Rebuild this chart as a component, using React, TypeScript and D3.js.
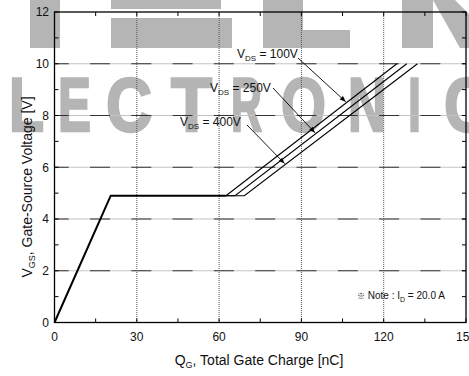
import React from "react";
import * as d3 from "d3";

const W = 469;
const H = 376;

// Shared part of the gate-charge curve: linear rise, then the Miller plateau
const riseQ = [0, 20.5, 62.5];
const riseV = [0, 4.9, 4.9];

// Per-V_DS branches: end of plateau, then the second linear rise to 10 V
const seriesNames = ["100V", "250V", "400V"];
const plateauEndQ = [62.5, 65.8, 69.2];
const plateauV = [4.9, 4.9, 4.9];
const topQ = [124.8, 128.4, 132.3];
const topV = [10, 10, 10];

// Voltage on each branch where its callout arrow lands
const arrowV = [8.55, 7.35, 6.16];

const xTicks = [0, 30, 60, 90, 120, 150];
const xMinor = [15, 45, 75, 105, 135];
const xGrid = [30, 60, 90, 120];
const yTicks = [0, 2, 4, 6, 8, 10, 12];
const yMinor = [1, 3, 5, 7, 9, 11];
const yGrid = [2, 4, 6, 8, 10];

const FONT = "'Liberation Sans', Arial, sans-serif";
const WM = "#b5b5b5";

// background logo pieces
const wmRects = [
  [30, 0, 30, 48],
  [111, 0, 110, 9],
  [111, 18, 121, 30],
  [263, 0, 40, 48],
  [263, 30, 87, 18],
  [402, 0, 31, 48],
];
const wmLetters = [
  ["L", 9, 35],
  ["E", 58, 33],
  ["C", 106, 46],
  ["T", 171, 41],
  ["R", 231, 31],
  ["O", 281, 45],
  ["N", 348, 38],
  ["I", 408, 13],
  ["C", 444, 45],
];

export default function App() {
  const x = d3.scaleLinear().domain([0, 150]).range([54.5, 466]);
  const y = d3.scaleLinear().domain([0, 12]).range([322.5, 12]);
  const line = d3
    .line<[number, number]>()
    .x((d) => x(d[0]))
    .y((d) => y(d[1]));

  const common = riseQ.map((q, i) => [q, riseV[i]] as [number, number]);
  const branches = seriesNames.map((_, i) => [
    [riseQ[2], riseV[2]] as [number, number],
    [plateauEndQ[i], plateauV[i]] as [number, number],
    [topQ[i], topV[i]] as [number, number],
  ]);

  const qOn = (i: number, v: number) =>
    plateauEndQ[i] +
    ((v - plateauV[i]) / (topV[i] - plateauV[i])) * (topQ[i] - plateauEndQ[i]);

  const labels = [
    { x: 237, y: 57.5, ax: 298, ay: 58 },
    { x: 210, y: 91.5, ax: 273, ay: 88 },
    { x: 180, y: 126, ax: 247, ay: 125 },
  ];

  const x0 = x(0);
  const x1 = x(150);
  const y0 = y(0);
  const y1 = y(12);

  return (
    <svg width={W} height={H} style={{ position: "absolute", left: 0, top: 0, background: "#fff" }}>
      <defs>
        <marker id="ah" viewBox="0 0 10 10" refX="10" refY="5" markerWidth="7" markerHeight="6" orient="auto" markerUnits="userSpaceOnUse">
          <path d="M0,1 L10,5 L0,9 Z" fill="#000" />
        </marker>
      </defs>

      {/* logo in the background */}
      <g fill={WM}>
        {wmRects.map(([rx, ry, rw, rh], i) => (
          <rect key={i} x={rx} y={ry} width={rw} height={rh} />
        ))}
        <polygon points="433,0 455,0 469,14 469,48 460,48" />
        {wmLetters.map(([ch, lx, lw], i) => (
          <text
            key={i}
            x={lx as number}
            y={131}
            fontFamily={FONT}
            fontWeight="bold"
            fontSize={76}
            textLength={lw as number}
            lengthAdjust="spacingAndGlyphs"
            stroke={WM}
            strokeWidth={2.5}
            strokeLinejoin="miter"
          >
            {ch}
          </text>
        ))}
      </g>

      {/* horizontal grid: light base with dark long dashes */}
      {yGrid.map((v) => (
        <g key={v}>
          <line x1={x0} x2={x1} y1={y(v)} y2={y(v)} stroke="#c4c4c4" strokeWidth={1.2} />
          <line x1={x0} x2={x1} y1={y(v)} y2={y(v)} stroke="#333" strokeWidth={1.2} strokeDasharray="20 21.3" strokeDashoffset={5.8} />
        </g>
      ))}
      {/* vertical grid: dotted */}
      {xGrid.map((q) => (
        <line key={q} x1={x(q)} x2={x(q)} y1={y1} y2={y0} stroke="#555" strokeWidth={1} strokeDasharray="1 1" />
      ))}

      {/* frame */}
      <rect x={x0} y={y1} width={x1 - x0} height={y0 - y1} fill="none" stroke="#000" strokeWidth={1.3} />

      {/* inward ticks */}
      {yTicks.concat(yMinor).map((v) => (
        <g key={"yt" + v}>
          <line x1={x0} x2={x0 + 4} y1={y(v)} y2={y(v)} stroke="#000" />
          <line x1={x1} x2={x1 - 4} y1={y(v)} y2={y(v)} stroke="#000" />
        </g>
      ))}
      {xTicks.concat(xMinor).map((q) => (
        <g key={"xt" + q}>
          <line x1={x(q)} x2={x(q)} y1={y0} y2={y0 - 4} stroke="#000" />
          <line x1={x(q)} x2={x(q)} y1={y1} y2={y1 + 4} stroke="#000" />
        </g>
      ))}

      {/* tick labels */}
      {yTicks.map((v) => (
        <text key={"yl" + v} x={49} y={y(v) + 4.3} textAnchor="end" fontFamily={FONT} fontSize={12} fill="#111">
          {v}
        </text>
      ))}
      {xTicks.map((q) => (
        <text key={"xl" + q} x={x(q)} y={340.5} textAnchor="middle" fontFamily={FONT} fontSize={12} fill="#111">
          {q}
        </text>
      ))}

      {/* curves */}
      <path d={line(common) || ""} fill="none" stroke="#000" strokeWidth={2} strokeLinejoin="round" />
      {branches.map((b, i) => (
        <path key={i} d={line(b) || ""} fill="none" stroke="#000" strokeWidth={1.1} />
      ))}

      {/* callouts */}
      {labels.map((l, i) => {
        const tx = x(qOn(i, arrowV[i])) - 2.5;
        const ty = y(arrowV[i]) + 0.5;
        return (
          <g key={"lab" + i}>
            <line x1={l.ax} y1={l.ay} x2={tx} y2={ty} stroke="#000" strokeWidth={0.9} markerEnd="url(#ah)" />
            <text x={l.x} y={l.y} fontFamily={FONT} fontSize={12} fill="#111">
              V
              <tspan fontSize={8} dy={3}>DS</tspan>
              <tspan dy={-3}>{" = " + seriesNames[i]}</tspan>
            </text>
          </g>
        );
      })}

      {/* note */}
      <text x={357} y={299} fontFamily={FONT} fontSize={10} fill="#111">
        <tspan fontFamily="'Noto Sans CJK JP', 'DejaVu Sans'" fontSize={8}>※</tspan>
        {" Note : I"}
        <tspan fontSize={7} dy={2.5}>D</tspan>
        <tspan dy={-2.5}>{" = 20.0 A"}</tspan>
      </text>

      {/* axis titles */}
      <text x={259} y={365} textAnchor="middle" fontFamily={FONT} fontSize={14} fill="#111">
        Q<tspan fontSize={9} dy={3}>G</tspan>
        <tspan dy={-3}>, Total Gate Charge [nC]</tspan>
      </text>
      <text transform="translate(32,187) rotate(-90)" textAnchor="middle" fontFamily={FONT} fontSize={14} fill="#111">
        V<tspan fontSize={9} dy={3}>GS</tspan>
        <tspan dy={-3}>, Gate-Source Voltage [V]</tspan>
      </text>
    </svg>
  );
}
